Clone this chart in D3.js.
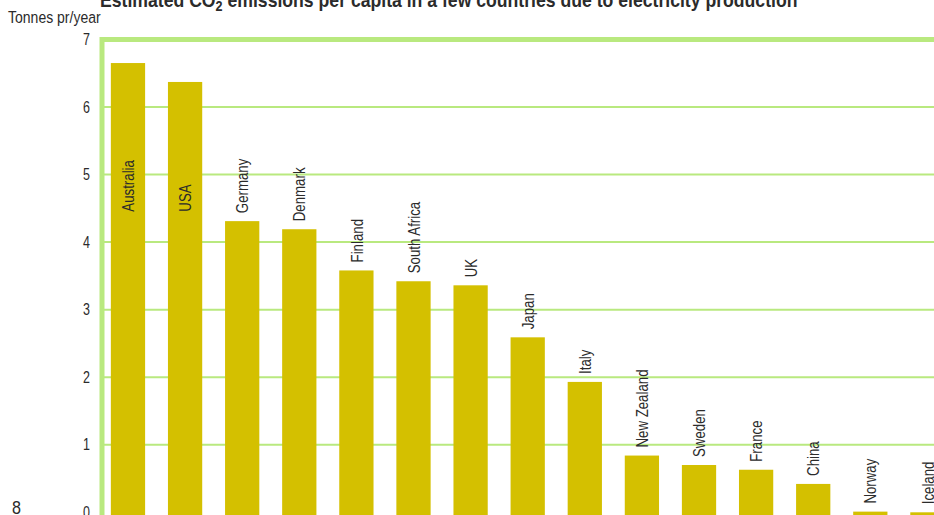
<!DOCTYPE html>
<html>
<head>
<meta charset="utf-8">
<script src="https://cdn.jsdelivr.net/npm/d3@7"></script>
<style>
  body { margin: 0; background: #fff; }
  text { font-family: "Liberation Sans", Arial, sans-serif; fill: #2b2b2b; }
</style>
</head>
<body>
<div id="chart"></div>
<script>
// data
var countries = ["Australia", "USA", "Germany", "Denmark", "Finland", "South Africa", "UK", "Japan",
                 "Italy", "New Zealand", "Sweden", "France", "China", "Norway", "Iceland"];
var emissions = [6.65, 6.37, 4.31, 4.19, 3.58, 3.42, 3.36, 2.59, 1.93, 0.84, 0.70, 0.63, 0.42, 0.01, 0.0];
var yTicks = [0, 1, 2, 3, 4, 5, 6, 7];

var width = 934, height = 515;
var green = "#b9e97f";
var gold = "#d4c000";
var narrow = 0.78; // squeeze Liberation Sans to look like a condensed face

var data = countries.map((c, i) => ({ country: c, value: emissions[i] }));

const svg = d3.select("#chart").append("svg")
    .attr("width", width)
    .attr("height", height);

var x = d3.scaleBand()
    .domain(countries)
    .range([100, 955.4])
    .paddingInner(0.4)
    .paddingOuter(0.19);

var y = d3.scaleLinear()
    .domain([0, 7])
    .range([512.3, 39.4]);

// horizontal grid lines (top one is the thick frame line)
svg.append("g")
    .selectAll("line")
    .data(yTicks.filter(d => d > 0))
    .enter().append("line")
    .attr("x1", 100)
    .attr("x2", width)
    .attr("y1", d => y(d))
    .attr("y2", d => y(d))
    .attr("stroke", green)
    .attr("stroke-width", d => d === 7 ? 5 : 2);

// left axis line
svg.append("line")
    .attr("x1", 102)
    .attr("x2", 102)
    .attr("y1", y(7) - 2.5)
    .attr("y2", height)
    .attr("stroke", green)
    .attr("stroke-width", 5);

// tick labels
const yAxis = d3.axisLeft(y).tickValues(yTicks).tickSize(0).tickPadding(0).tickFormat(d3.format("d"));
const ga = svg.append("g")
    .attr("transform", "translate(90,0)")
    .call(yAxis);
ga.select(".domain").remove();
ga.selectAll("text")
    .style("font-size", "16px")
    .style("font-family", null)
    .attr("fill", "#2b2b2b")
    .attr("transform", `scale(${narrow},1)`);

// bars, running down past the bottom edge
svg.append("g")
    .selectAll("rect")
    .data(data)
    .enter().append("rect")
    .attr("x", d => x(d.country))
    .attr("y", d => y(d.value))
    .attr("width", x.bandwidth())
    .attr("height", d => height - y(d.value))
    .attr("fill", gold);

// country labels, rotated; the two tallest sit inside their bars
svg.append("g")
    .selectAll("text")
    .data(data)
    .enter().append("text")
    .attr("transform", d => {
        var ly = d.value > 6 ? y(4.45) : y(d.value) - 8;
        return `translate(${x(d.country) + x.bandwidth() / 2},${ly}) rotate(-90) scale(${narrow},1)`;
    })
    .attr("dy", "0.36em")
    .style("font-size", "17px")
    .text(d => d.country);

// title (cut off at the top, as in the page scan)
const title = svg.append("text")
    .attr("transform", "translate(100,6.5) scale(0.84,1)")
    .style("font-size", "21px")
    .style("font-weight", "bold")
    .attr("fill", "#111");
title.append("tspan").text("Estimated CO");
title.append("tspan").attr("dy", 4).style("font-size", "15px").text("2");
title.append("tspan").attr("dy", -4).text(" emissions per capita in a few countries due to electricity production");

svg.append("text")
    .attr("transform", "translate(8,23) scale(0.85,1)")
    .style("font-size", "16.5px")
    .text("Tonnes pr/year");

// page number
svg.append("text")
    .attr("transform", "translate(12,514) scale(0.85,1)")
    .style("font-size", "19px")
    .text("8");
</script>
</body>
</html>
